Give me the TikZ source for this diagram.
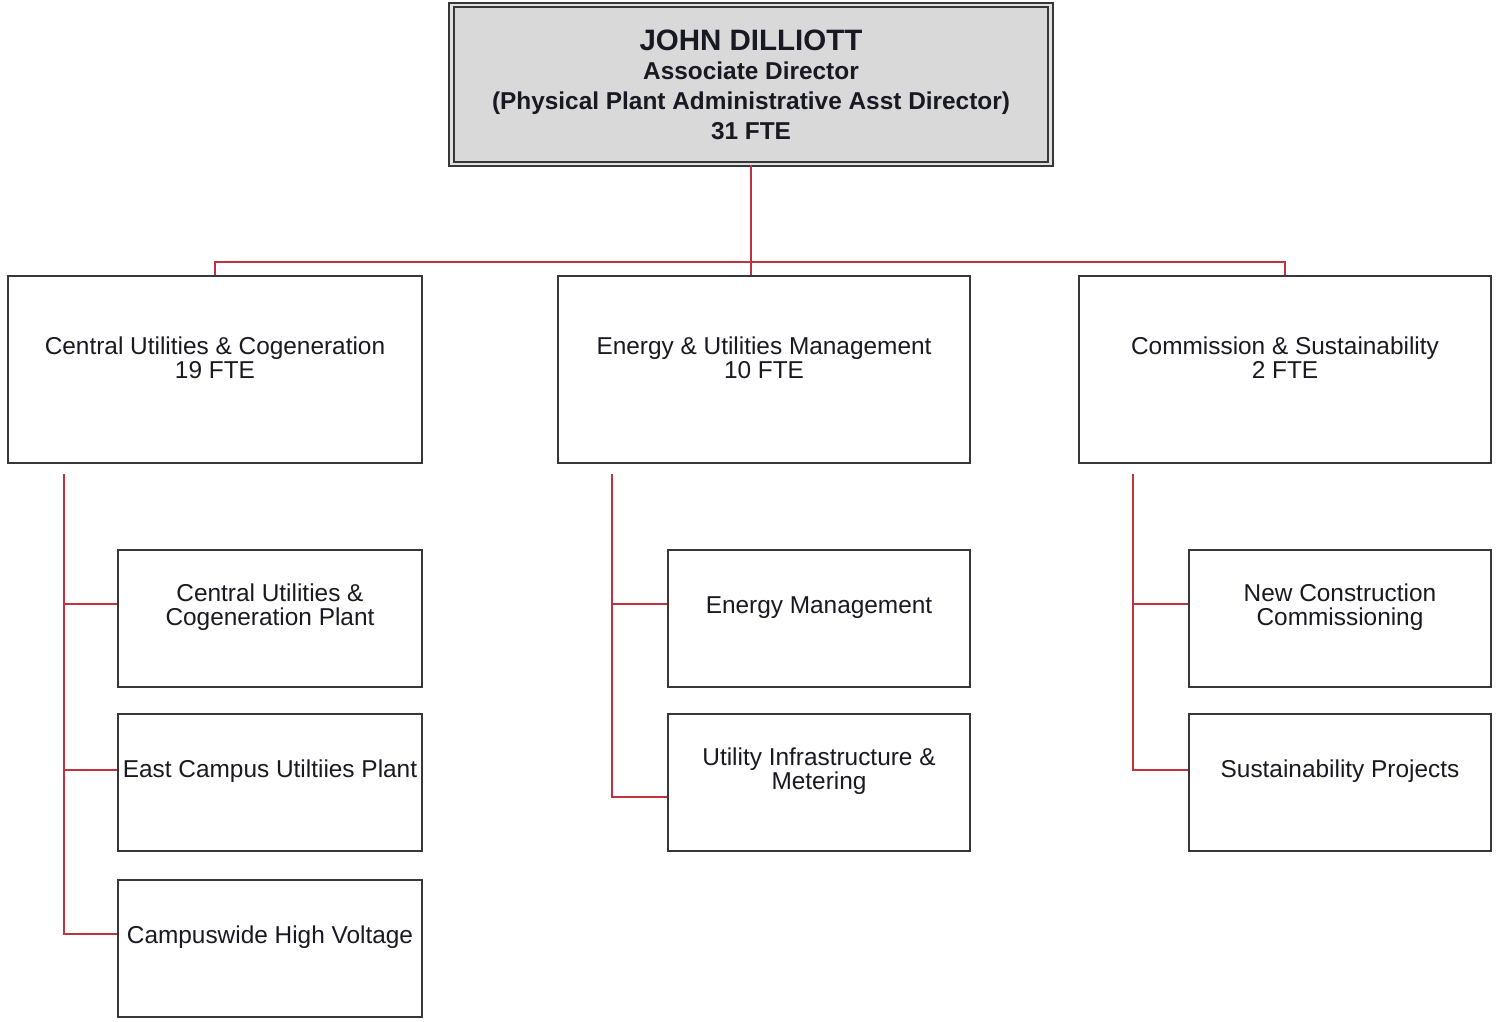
\documentclass[tikz,border=0pt]{standalone}
\usepackage{fontspec}
\setmainfont{Liberation Sans}
\usetikzlibrary{calc}
\definecolor{connred}{RGB}{190,52,62}
\definecolor{boxline}{RGB}{55,55,55}
\definecolor{topfill}{RGB}{217,217,217}
\definecolor{gapfill}{RGB}{225,225,225}
\definecolor{txt}{RGB}{25,25,35}
\tikzset{
  unitbox/.style={draw=boxline, line width=2pt, fill=white, rectangle, inner sep=0pt},
  bigbox/.style={unitbox, minimum width=412pt, minimum height=187pt},
  smallbox/.style={unitbox, minimum width=302pt, minimum height=137pt},
  topbox/.style={draw=boxline, line width=2.1pt, double=gapfill, double distance=2.4pt,
    fill=topfill, rectangle, minimum width=599pt, minimum height=159pt, inner sep=0pt,
    align=center, text=txt, font={\fontsize{24.4}{29.7}\selectfont\bfseries}},
  lbl/.style={align=center, text=txt, inner sep=0pt, font={\fontsize{24.4}{24}\selectfont}},
  conn/.style={draw=connred, line width=2pt}
}
\begin{document}
\begin{tikzpicture}[x=1pt, y=-1pt]
\useasboundingbox (0,0) rectangle (1497,1021);
\fill[white] (0,0) rectangle (1497,1021);

% top
\node[topbox] (top) at (751,84.5) {{\fontsize{29.5}{29.7}\selectfont JOHN DILLIOTT}\\Associate Director\\(Physical Plant Administrative Asst Director)\\31 FTE};

% level 1
\node[bigbox, minimum width=414pt] (L) at (215,369.5) {};
\node[bigbox] (M) at (764,369.5) {};
\node[bigbox] (R) at (1285,369.5) {};
\node[lbl] (Lt) at ([yshift=12pt]L.center) {Central Utilities \& Cogeneration\\19 FTE};
\node[lbl] (Mt) at ([yshift=12pt]M.center) {Energy \& Utilities Management\\10 FTE};
\node[lbl] (Rt) at ([yshift=12pt]R.center) {Commission \& Sustainability\\2 FTE};

% level 2
\node[smallbox, minimum width=304pt] (L1) at (270,618.5) {};
\node[smallbox, minimum width=304pt] (L2) at (270,782.5) {};
\node[smallbox, minimum width=304pt] (L3) at (270,948.5) {};
\node[smallbox] (M1) at (819,618.5) {};
\node[smallbox] (M2) at (819,782.5) {};
\node[smallbox] (R1) at (1340,618.5) {};
\node[smallbox] (R2) at (1340,782.5) {};
\node[lbl] (L1t) at ([yshift=11pt]L1.center) {Central Utilities \&\\Cogeneration Plant};
\node[lbl] (L2t) at ([yshift=11pt]L2.center) {East Campus Utiltiies Plant};
\node[lbl] (L3t) at ([yshift=11pt]L3.center) {Campuswide High Voltage};
\node[lbl] (M1t) at ([yshift=11pt]M1.center) {Energy Management};
\node[lbl] (M2t) at ([yshift=11pt]M2.center) {Utility Infrastructure \&\\Metering};
\node[lbl] (R1t) at ([yshift=11pt]R1.center) {New Construction\\Commissioning};
\node[lbl] (R2t) at ([yshift=11pt]R2.center) {Sustainability Projects};

% connectors level 0-1
\coordinate (bus) at (750,262);
\draw[conn] (top.south) -- (top.south |- M.north);
\draw[conn] (L.north) |- (bus) -| (R.north);

% attach points
\coordinate (L1a) at ($(L1.north west)!0.394!(L1.south west)$);
\coordinate (L2a) at ($(L2.north west)!0.41!(L2.south west)$);
\coordinate (L3a) at ($(L3.north west)!0.394!(L3.south west)$);
\coordinate (M1a) at ($(M1.north west)!0.394!(M1.south west)$);
\coordinate (M2a) at ($(M2.north west)!0.606!(M2.south west)$);
\coordinate (R1a) at ($(R1.north west)!0.394!(R1.south west)$);
\coordinate (R2a) at ($(R2.north west)!0.41!(R2.south west)$);

\coordinate (Lv) at (64,474);
\coordinate (Mv) at (612,474);
\coordinate (Rv) at (1133,474);

\draw[conn] (Lv) |- (L3a);
\draw[conn] (Lv |- L1a) -- (L1a);
\draw[conn] (Lv |- L2a) -- (L2a);
\draw[conn] (Mv) |- (M2a);
\draw[conn] (Mv |- M1a) -- (M1a);
\draw[conn] (Rv) |- (R2a);
\draw[conn] (Rv |- R1a) -- (R1a);
\end{tikzpicture}
\end{document}
